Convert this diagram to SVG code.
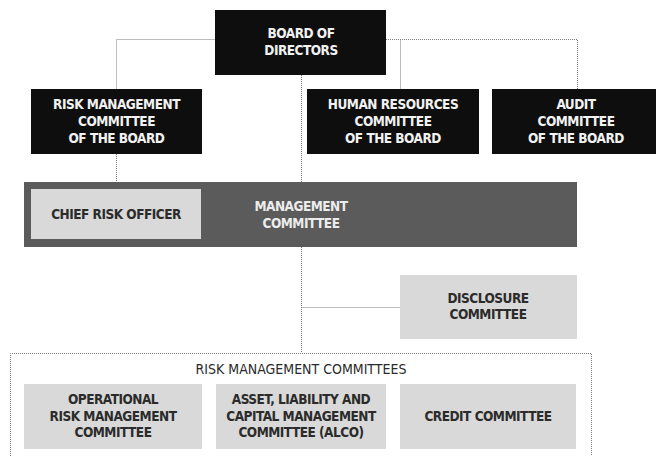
<svg xmlns="http://www.w3.org/2000/svg" width="656" height="456" viewBox="0 0 656 456">
<style>
.t{font-family:"Liberation Sans Narrow","DejaVu Sans Condensed","Liberation Sans",Arial,sans-serif;font-size:13.5px;text-anchor:middle;dominant-baseline:central}
.b{font-weight:bold;letter-spacing:-0.5px}
.dark rect{fill:#0e0e0e}
.dark text{fill:#f2f2f2}
.light rect{fill:#d9d9d9}
.light text{fill:#2b2b2b}
.mgmt rect{fill:#5b5b5b}
.mgmt text{fill:#ececec}
.con{fill:none;stroke:#7a7a7a;stroke-width:1;stroke-dasharray:1 1}
</style>
<rect width="656" height="456" fill="#ffffff"/>
<g id="connectors">
<path class="con" d="M215.5 39.5H116.5V89"/>
<path class="con" d="M386 39.5H577.5V89"/>
<path class="con" d="M400.5 39.5V89"/>
<path class="con" d="M301.5 75V182"/>
<path class="con" d="M116.5 154V189"/>
<path class="con" d="M301.5 247V353"/>
<path class="con" d="M301.5 307.5H400"/>
</g>
<g id="risk-management-committees-group">
<path class="con" d="M10.5 458V353.5H591.5V458"/>
<text class="t" x="301" y="369" fill="#2b2b2b" style="font-size:14px">RISK MANAGEMENT COMMITTEES</text>
</g>
<g id="board" class="dark">
<rect x="215" y="10" width="171" height="65"/>
<text class="t b" x="301" y="33">BOARD OF</text>
<text class="t b" x="301" y="50">DIRECTORS</text>
</g>
<g id="risk-committee-board" class="dark">
<rect x="31" y="89" width="171" height="65"/>
<text class="t b" x="116.5" y="104">RISK MANAGEMENT</text>
<text class="t b" x="116.5" y="121">COMMITTEE</text>
<text class="t b" x="116.5" y="138">OF THE BOARD</text>
</g>
<g id="hr-committee" class="dark">
<rect x="307" y="89" width="172" height="65"/>
<text class="t b" x="393" y="104">HUMAN RESOURCES</text>
<text class="t b" x="393" y="121">COMMITTEE</text>
<text class="t b" x="393" y="138">OF THE BOARD</text>
</g>
<g id="audit-committee" class="dark">
<rect x="492" y="89" width="170" height="65"/>
<text class="t b" x="576" y="104">AUDIT</text>
<text class="t b" x="576" y="121">COMMITTEE</text>
<text class="t b" x="576" y="138">OF THE BOARD</text>
</g>
<g id="management-committee" class="mgmt">
<rect x="24" y="182" width="553" height="65"/>
<text class="t b" x="301" y="206">MANAGEMENT</text>
<text class="t b" x="301" y="223">COMMITTEE</text>
</g>
<g id="chief-risk-officer" class="light">
<rect x="31" y="189" width="170" height="50"/>
<text class="t b" x="116" y="214">CHIEF RISK OFFICER</text>
</g>
<g id="disclosure-committee" class="light">
<rect x="400" y="275" width="177" height="64"/>
<text class="t b" x="488" y="298">DISCLOSURE</text>
<text class="t b" x="488" y="314">COMMITTEE</text>
</g>
<g id="operational-risk" class="light">
<rect x="24" y="384" width="178" height="65"/>
<text class="t b" x="113" y="399">OPERATIONAL</text>
<text class="t b" x="113" y="416">RISK MANAGEMENT</text>
<text class="t b" x="113" y="432">COMMITTEE</text>
</g>
<g id="alco" class="light">
<rect x="216" y="384" width="170" height="65"/>
<text class="t b" x="301" y="399">ASSET, LIABILITY AND</text>
<text class="t b" x="301" y="416">CAPITAL MANAGEMENT</text>
<text class="t b" x="301" y="432">COMMITTEE (ALCO)</text>
</g>
<g id="credit-committee" class="light">
<rect x="400" y="384" width="176" height="65"/>
<text class="t b" x="488" y="416">CREDIT COMMITTEE</text>
</g>
</svg>
